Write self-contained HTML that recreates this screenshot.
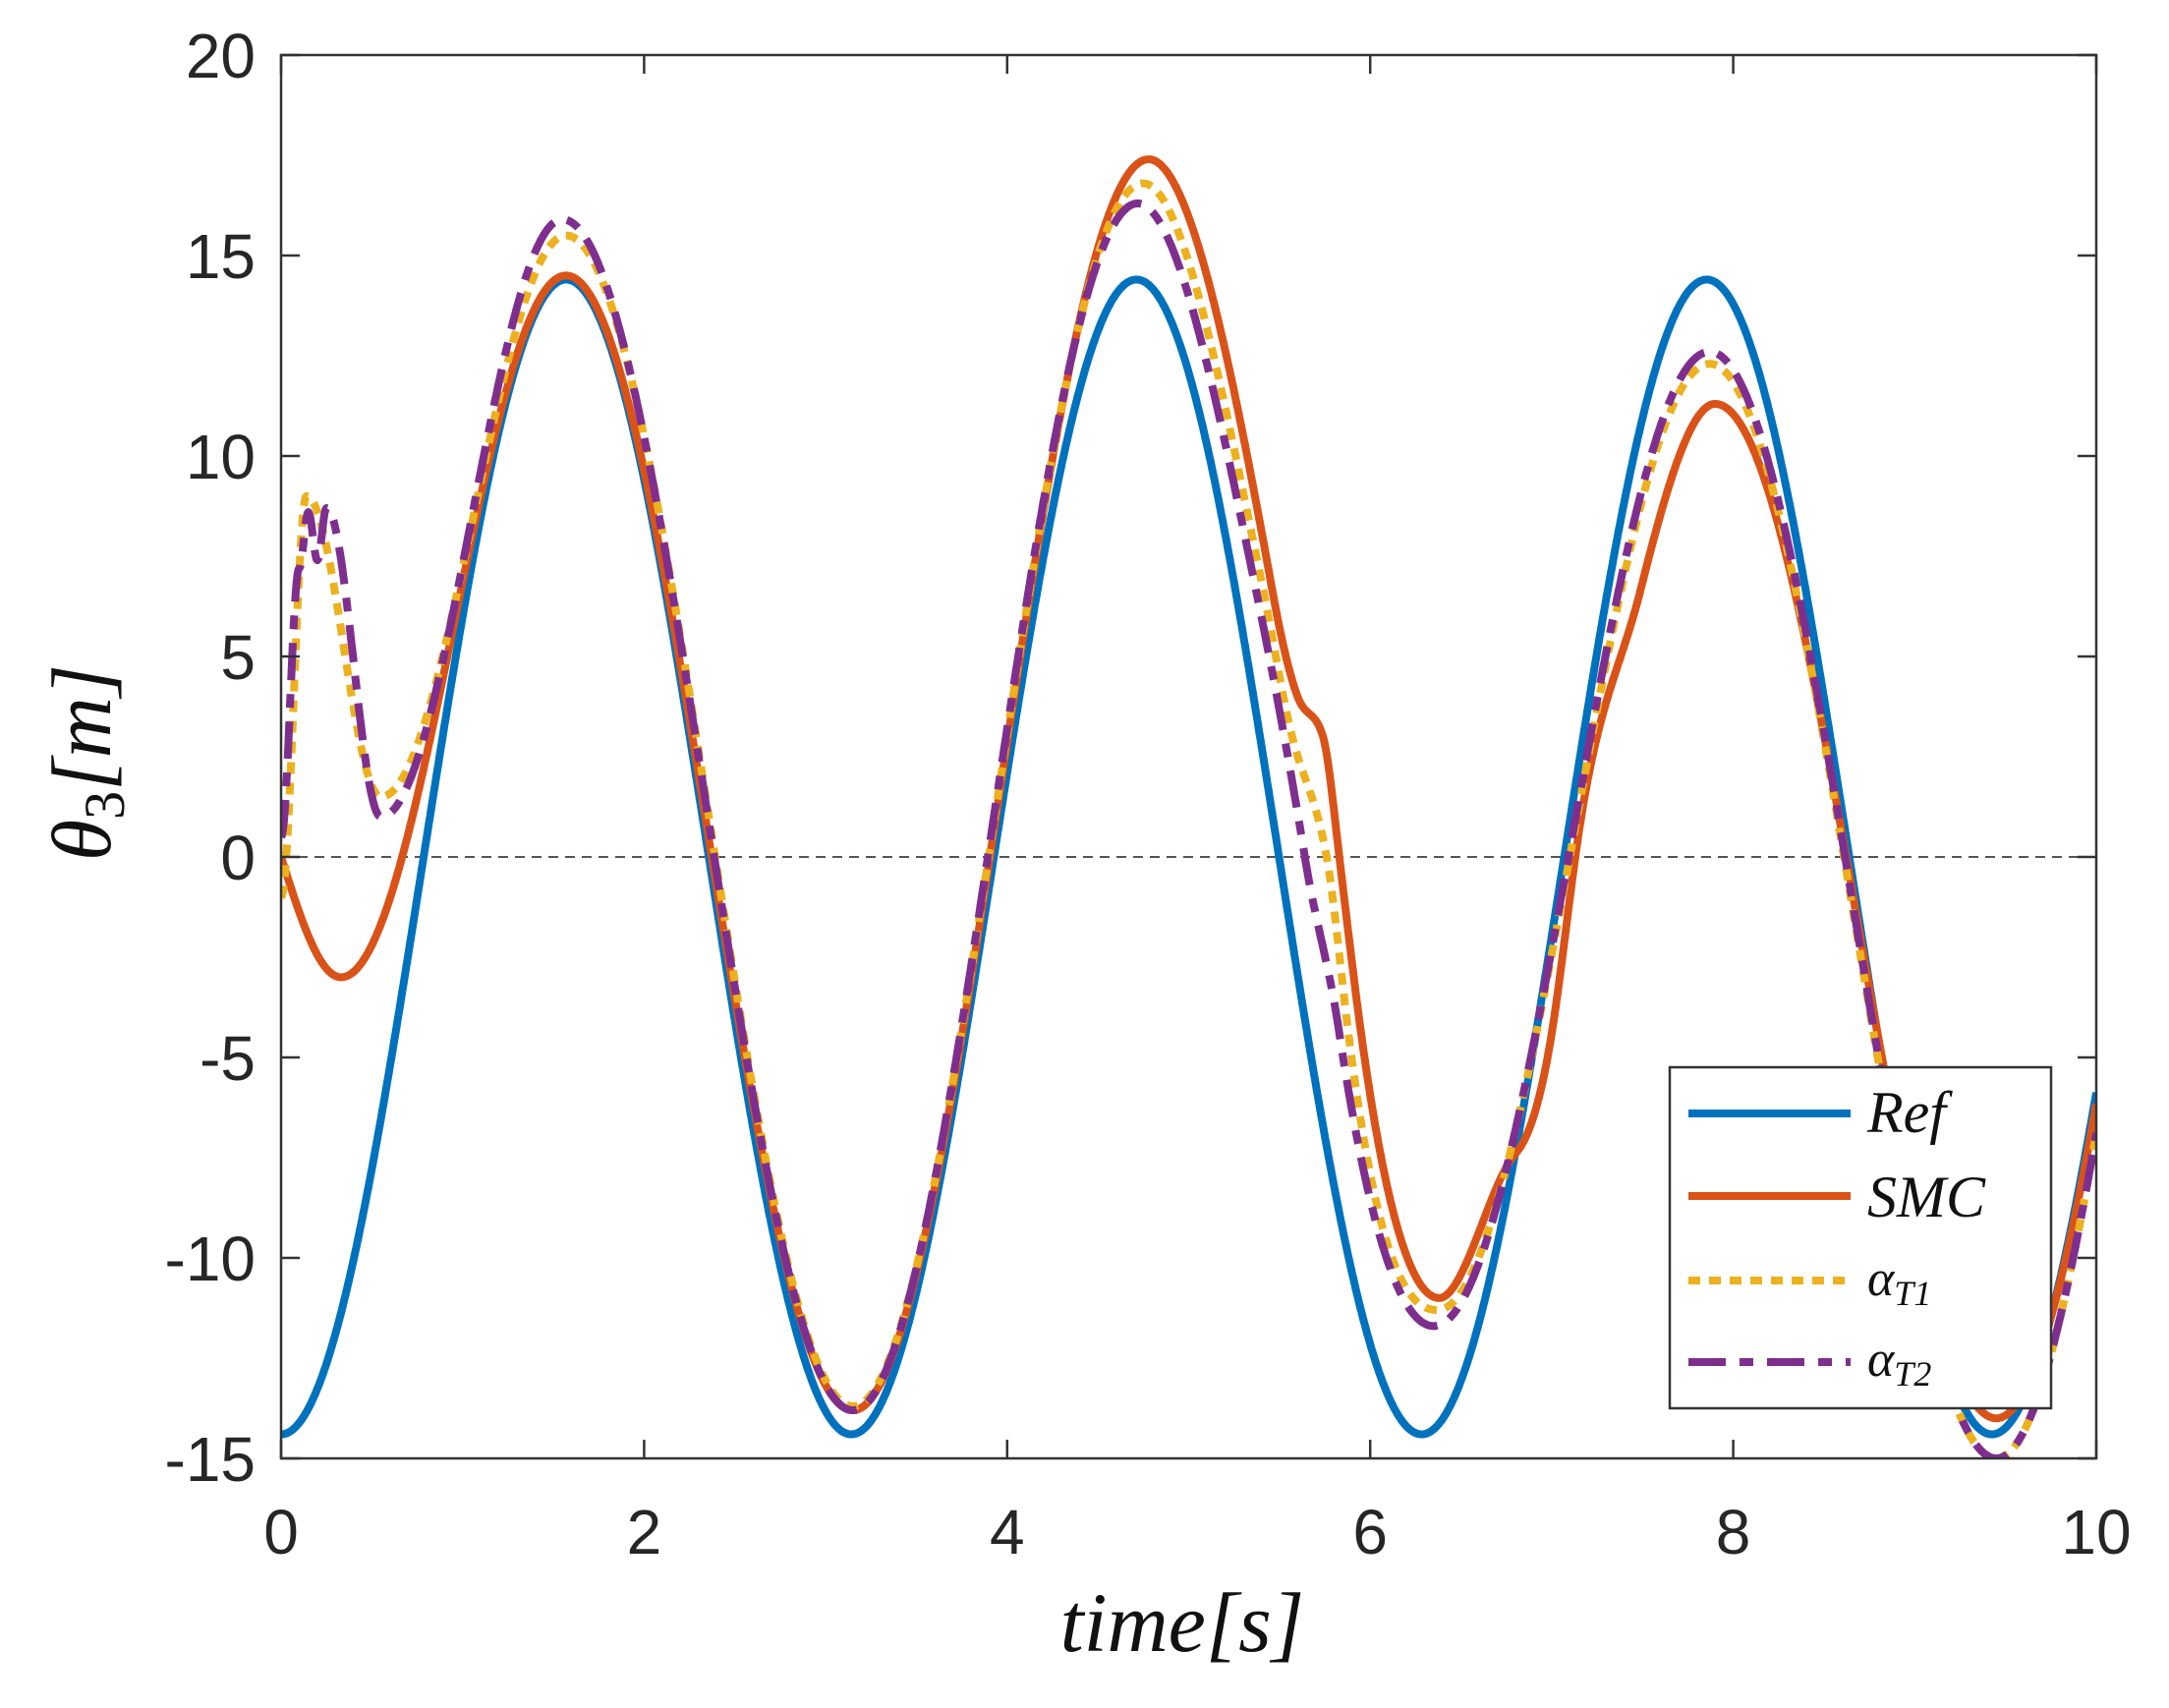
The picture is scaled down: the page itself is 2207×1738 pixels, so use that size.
<!DOCTYPE html>
<html><head><meta charset="utf-8"><style>
html,body{margin:0;padding:0;background:#fff;}
svg{display:block;}
</style></head><body>
<svg id="s" width="2207" height="1738" viewBox="0 0 2207 1738" xmlns="http://www.w3.org/2000/svg">
<defs><clipPath id="c"><rect x="286" y="56" width="1847" height="1428"/></clipPath></defs>
<rect x="0" y="0" width="2207" height="1738" fill="#fff"/>
<line x1="286" y1="872" x2="2133" y2="872" stroke="#555" stroke-width="2" stroke-dasharray="10 7"/>
<g id="curves" clip-path="url(#c)" fill="none" stroke-linejoin="round"></g>
<g id="axes" stroke="#333" stroke-width="2.5" fill="none"></g>
<g id="labels" font-family="Liberation Sans, Arial, sans-serif" font-size="64" fill="#262626"></g>
<text x="1203" y="1680" font-family="Liberation Serif, serif" font-style="italic" font-size="86" text-anchor="middle" fill="#111">time[s]</text>
<text transform="translate(112,776) rotate(-90)" font-family="Liberation Serif, serif" font-style="italic" font-size="86" text-anchor="middle" fill="#111">θ<tspan font-style="normal" font-size="58" dy="14">3</tspan><tspan dy="-14">[m]</tspan></text>
<g id="legend">
<rect x="1699" y="1086" width="388" height="347" fill="#fff" stroke="#333" stroke-width="2.5"/>
<line x1="1718" y1="1133" x2="1883" y2="1133" stroke="#0072BD" stroke-width="8"/>
<line x1="1718" y1="1217" x2="1883" y2="1217" stroke="#D95319" stroke-width="8"/>
<line x1="1718" y1="1303" x2="1883" y2="1303" stroke="#EDB120" stroke-width="8" stroke-dasharray="12 9"/>
<line x1="1718" y1="1386" x2="1883" y2="1386" stroke="#7E2F8E" stroke-width="8" stroke-dasharray="38 14 14 14"/>
<g font-family="Liberation Serif, serif" font-style="italic" fill="#111">
<text x="1900" y="1152" font-size="60">Ref</text>
<text x="1900" y="1238" font-size="60">SMC</text>
<text x="1900" y="1318" font-size="52">α<tspan font-size="36" dy="10">T1</tspan></text>
<text x="1900" y="1400" font-size="52">α<tspan font-size="36" dy="10">T2</tspan></text>
</g>
</g>
</svg>
<script>
var L=286,R=2133,T=56,B=1484;
function X(t){return L+(R-L)*t/10;}
function Y(v){return T+(B-T)*(20-v)/35;}
function interp(pts,t){
  for(var i=0;i<pts.length-1;i++){
    var a=pts[i],b=pts[i+1];
    if(t>=a[0]&&t<=b[0]){
      var h=b[0]-a[0],s=(t-a[0])/h;
      var m0=a[2]||0,m1=b[2]||0;
      if(m0===0&&m1===0) return a[1]+(b[1]-a[1])*(1-Math.cos(Math.PI*s))/2;
      var s2=s*s,s3=s2*s;
      return (2*s3-3*s2+1)*a[1]+(s3-2*s2+s)*h*m0+(-2*s3+3*s2)*b[1]+(s3-s2)*h*m1;
    }
  }
  return pts[pts.length-1][1];
}
function path(f){
  var d="";
  for(var i=0;i<=2000;i++){var t=i*10/2000;d+=(i?"L":"M")+X(t).toFixed(1)+","+Y(f(t)).toFixed(1);}
  return d;
}
var smc=[[-0.33,3],[0.33,-3],[1.57,14.5],[3.15,-13.8],[4.78,17.4],[5.46,6.67,-25],[5.6,4.0,-12],[5.74,3.0,-15],[5.83,0,-38],[5.95,-4.4,-33],[6.38,-11],[6.8,-7.4,5],[7.0,-4.4,28],[7.13,0,33],[7.49,6.67,18],[7.9,11.3],[9.45,-14],[11,14]];
var a1=[[0,-1],[0.14,9],[0.55,1.5],[1.57,15.5],[3.15,-13.7],[4.75,16.8],[5.41,6.67,-22],[5.57,3,-18],[5.76,0,-25],[5.88,-4.4,-36],[6.37,-11.3],[7.87,12.3],[9.45,-15],[11,14]];
var a2=[[0,0.5],[0.1,7.2],[0.15,8.6],[0.2,7.4],[0.25,8.7],[0.55,1],[1.55,15.9],[3.15,-13.8],[4.72,16.3],[5.37,6.67,-22],[5.64,0,-28],[5.83,-4.4,-30],[6.35,-11.7],[7.87,12.6],[9.45,-15],[11,14]];
var g=document.getElementById("curves"),ns="http://www.w3.org/2000/svg";
function add(d,col,dash){var p=document.createElementNS(ns,"path");p.setAttribute("d",d);p.setAttribute("stroke",col);p.setAttribute("stroke-width","8");if(dash)p.setAttribute("stroke-dasharray",dash);g.appendChild(p);}
add(path(function(t){return -14.4*Math.cos(2*t);}),"#0072BD");
add(path(function(t){return interp(smc,t);}),"#D95319");
add(path(function(t){return interp(a1,t);}),"#EDB120","12 9");
add(path(function(t){return interp(a2,t);}),"#7E2F8E","38 14 14 14");
var ax=document.getElementById("axes"),lb=document.getElementById("labels");
var r=document.createElementNS(ns,"rect");r.setAttribute("x",L);r.setAttribute("y",T);r.setAttribute("width",R-L);r.setAttribute("height",B-T);ax.appendChild(r);
function ln(x1,y1,x2,y2){var l=document.createElementNS(ns,"line");l.setAttribute("x1",x1);l.setAttribute("y1",y1);l.setAttribute("x2",x2);l.setAttribute("y2",y2);ax.appendChild(l);}
function tx(x,y,s,anc){var t=document.createElementNS(ns,"text");t.setAttribute("x",x);t.setAttribute("y",y);t.setAttribute("text-anchor",anc);t.textContent=s;lb.appendChild(t);}
for(var k=0;k<=10;k+=2){var x=X(k);ln(x,B,x,B-19);ln(x,T,x,T+19);tx(x,1581,String(k),"middle");}
for(var v=-15;v<=20;v+=5){var y=Y(v);ln(L,y,L+19,y);ln(R,y,R-19,y);tx(260,y+23,String(v),"end");}
</script>
</body></html>
